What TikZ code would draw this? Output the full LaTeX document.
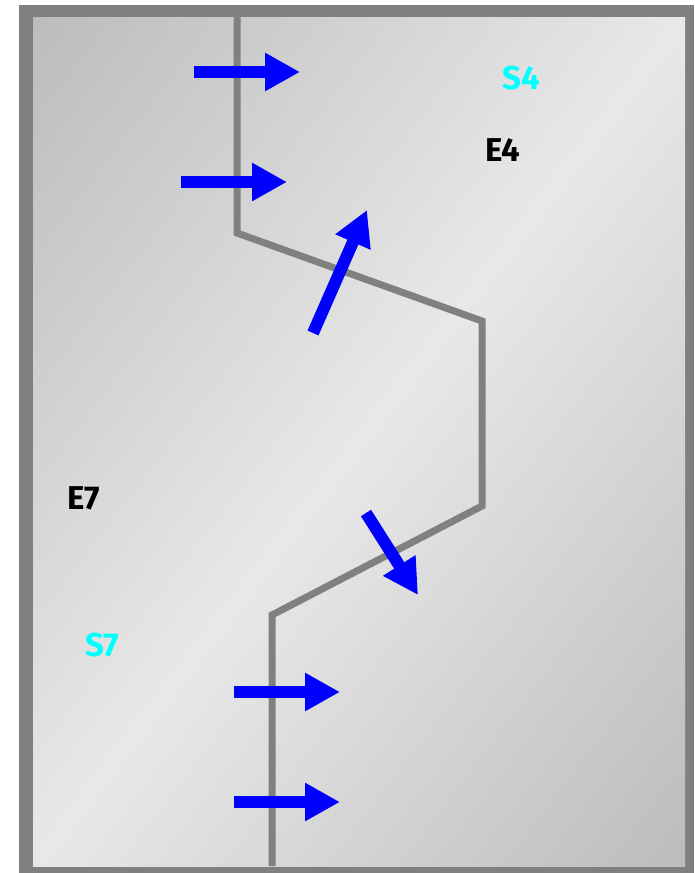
\documentclass[tikz,border=0pt]{standalone}
\usepackage{fontspec}
\setmainfont{Fira Sans}
\usetikzlibrary{arrows.meta}
\definecolor{framegray}{HTML}{808080}
\definecolor{darkbg}{HTML}{BCBCBC}
\definecolor{lightbg}{HTML}{E8E8E8}
\definecolor{wallgray}{HTML}{808080}
\definecolor{arrowblue}{HTML}{0000FF}
\definecolor{scyan}{HTML}{00FFFF}
\pgfdeclareverticalshading{diagbg}{100bp}{color(0bp)=(darkbg); color(15bp)=(darkbg); color(50bp)=(lightbg); color(85bp)=(darkbg); color(100bp)=(darkbg)}
\tikzset{
  wall/.style={draw=wallgray, line width=7pt, line join=miter},
  flowarrow/.style={draw=arrowblue, line width=12pt, -{Triangle[length=35pt,width=36pt]}},
  elabel/.style={font=\bfseries\fontsize{33}{35}\selectfont, text=black, inner sep=0pt},
  slabel/.style={font=\bfseries\fontsize{33}{35}\selectfont, text=scyan, inner sep=0pt}
}
\begin{document}
\begin{tikzpicture}[x=1pt,y=-1pt]
\useasboundingbox (0,0) rectangle (694,873);
\fill[white] (0,0) rectangle (694,873);
\fill[framegray] (19,5) rectangle (694,873);
\shade[shading=diagbg, shading angle=52.5] (33,17) rectangle (685,866);
% wall
\coordinate (w0) at (237,17);
\coordinate (w1) at (237,233);
\coordinate (w2) at (482,321);
\coordinate (w3) at (482,506);
\coordinate (w4) at (272,615);
\coordinate (w5) at (272,866);
\draw[wall] (w0) -- (w1) -- (w2) -- (w3) -- (w4) -- (w5);
% arrows
\coordinate (a1s) at (194,72); \coordinate (a1e) at (300,72);
\coordinate (a2s) at (181,182); \coordinate (a2e) at (287,182);
\coordinate (a3s) at (313,333); \coordinate (a3e) at (367,210);
\coordinate (a4s) at (366,513); \coordinate (a4e) at (418,595);
\coordinate (a5s) at (234,692); \coordinate (a5e) at (340,692);
\coordinate (a6s) at (234,802); \coordinate (a6e) at (340,802);
\draw[flowarrow] (a1s) -- (a1e);
\draw[flowarrow] (a2s) -- (a2e);
\draw[flowarrow] (a3s) -- (a3e);
\draw[flowarrow] (a4s) -- (a4e);
\draw[flowarrow] (a5s) -- (a5e);
\draw[flowarrow] (a6s) -- (a6e);
% labels
\node[slabel] (s4) at (521,78) {S4};
\node[elabel] (e4) at (503,150) {E4};
\node[elabel] (e7) at (84,498) {E7};
\node[slabel] (s7) at (102,645) {S7};
\end{tikzpicture}
\end{document}
